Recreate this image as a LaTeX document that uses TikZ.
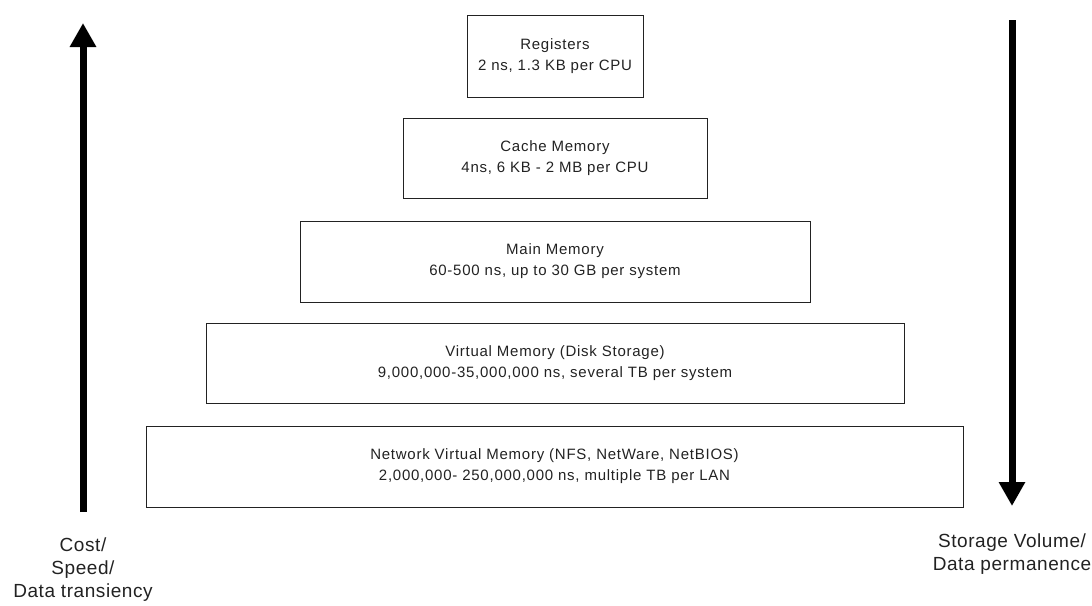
\documentclass[tikz,border=0pt]{standalone}
\usepackage{fontspec}
\setmainfont{Liberation Sans}
\newfontfamily\boxfont[LetterSpace=5]{Liberation Sans}
\newfontfamily\labelfont[LetterSpace=3]{Liberation Sans}
\usetikzlibrary{arrows.meta}
\definecolor{ink}{HTML}{222222}
\tikzset{
  level/.style={draw=ink, line width=1pt, inner sep=0pt, align=center,
    text=ink, font=\boxfont\fontsize{15}{21}\selectfont},
  sidelabel/.style={inner sep=0pt, align=center, text=ink, anchor=north,
    font=\labelfont\fontsize{19}{23}\selectfont},
  bigarrow/.style={line width=7pt, draw=black,
    -{Triangle[width=25pt,length=24pt]}}
}
\begin{document}
\begin{tikzpicture}[x=1pt,y=-1pt]
  \useasboundingbox (0,0) rectangle (1092,605);

  % memory hierarchy levels, top to bottom
  \node[level, minimum width=176pt, minimum height=82pt] (reg) at (555,56)
    {Registers\\2 ns, 1.3 KB per CPU};
  \node[level, minimum width=304pt, minimum height=80pt] (cache) at (555,158)
    {Cache Memory\\4ns, 6 KB - 2 MB per CPU};
  \node[level, minimum width=510pt, minimum height=81pt] (main) at (555,261.5)
    {Main Memory\\60-500 ns, up to 30 GB per system};
  \node[level, minimum width=698pt, minimum height=80pt] (virt) at (555,363)
    {Virtual Memory (Disk Storage)\\9,000,000-35,000,000 ns, several TB per system};
  \node[level, minimum width=817pt, minimum height=81pt] (net) at (554.5,466.5)
    {Network Virtual Memory (NFS, NetWare, NetBIOS)\\2,000,000- 250,000,000 ns, multiple TB per LAN};

  % side arrows
  \coordinate (upfoot) at (83,512);
  \coordinate (uptip) at (83,23);
  \coordinate (downfoot) at (1012,20);
  \coordinate (downtip) at (1012,506);
  \draw[bigarrow] (upfoot) -- (uptip);
  \draw[bigarrow] (downfoot) -- (downtip);

  % side labels
  \node[sidelabel] (costlabel) at (83,538) {Cost/\\Speed/\\Data transiency};
  \node[sidelabel] (storelabel) at (1012,534) {Storage Volume/\\Data permanence};
\end{tikzpicture}
\end{document}
